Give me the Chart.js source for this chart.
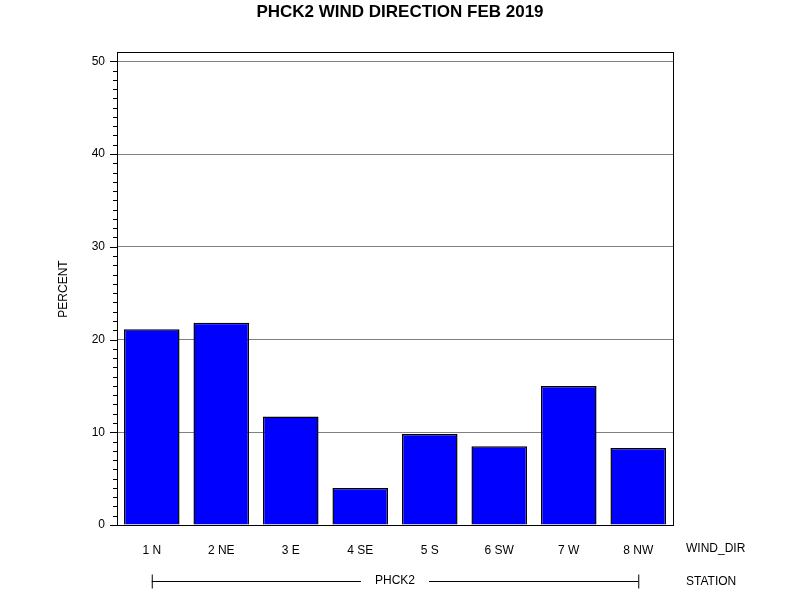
<!DOCTYPE html>
<html>
<head>
<meta charset="utf-8">
<script src="https://cdn.jsdelivr.net/npm/chart.js@4.4.1/dist/chart.umd.min.js"></script>
<style>
  html, body { margin: 0; padding: 0; background: #fff; }
  #wrap { width: 800px; height: 600px; }
</style>
</head>
<body>
<div id="wrap"><canvas id="myChart" width="800" height="600"></canvas></div>
<script>
const windDirs = ['1 N', '2 NE', '3 E', '4 SE', '5 S', '6 SW', '7 W', '8 NW'];
const percents = [21.1, 21.8, 11.7, 4.0, 9.8, 8.5, 15.0, 8.3];
const yTicks = [0, 10, 20, 30, 40, 50];
const station = 'PHCK2';
const chartTitle = 'PHCK2 WIND DIRECTION FEB 2019';

const FONT = '"Liberation Sans", Arial, sans-serif';

// frame, minor ticks, titles and the station row under the axis
const extras = {
    id: 'extras',
    afterDraw(chart) {
        const c = chart.ctx;
        const a = chart.chartArea;
        const y = chart.scales.y;
        const x = chart.scales.x;
        c.save();
        c.strokeStyle = '#000';
        c.lineWidth = 1;
        c.strokeRect(a.left + 0.5, a.top + 0.5, a.right - a.left, a.bottom - a.top);

        for (let v = 0; v <= 50; v++) {
            const py = Math.round(y.getPixelForValue(v)) + 0.5;
            const len = v % 10 === 0 ? 7 : 4;
            c.beginPath();
            c.moveTo(a.left - len, py);
            c.lineTo(a.left, py);
            c.stroke();
        }

        c.fillStyle = '#000';
        c.font = 'bold 17px ' + FONT;
        c.textAlign = 'center';
        c.textBaseline = 'middle';
        c.fillText(chartTitle, 400, 12);

        c.font = '12px ' + FONT;
        c.save();
        c.translate(64, 289);
        c.rotate(-Math.PI / 2);
        c.fillText('PERCENT', 0, 0);
        c.restore();

        c.textAlign = 'left';
        c.fillText('WIND_DIR', 686, 549);
        c.fillText('STATION', 686, 582);

        const x0 = x.getPixelForValue(0);
        const x1 = x.getPixelForValue(windDirs.length - 1);
        const mid = (x0 + x1) / 2;
        const ly = 581.5;
        c.textAlign = 'center';
        c.fillText(station, mid, 581);
        const half = c.measureText(station).width / 2 + 14;
        c.beginPath();
        c.moveTo(x0, ly); c.lineTo(mid - half, ly);
        c.moveTo(mid + half, ly); c.lineTo(x1, ly);
        c.moveTo(x0 + 0.5, ly - 7); c.lineTo(x0 + 0.5, ly + 7);
        c.moveTo(x1 + 0.5, ly - 7); c.lineTo(x1 + 0.5, ly + 7);
        c.stroke();
        c.restore();
    }
};

new Chart(document.getElementById('myChart'), {
    type: 'bar',
    data: {
        labels: windDirs,
        datasets: [{
            data: percents,
            backgroundColor: '#0000ff',
            borderColor: '#000',
            borderWidth: 1.5,
            barPercentage: 0.8,
            categoryPercentage: 1.0
        }]
    },
    options: {
        responsive: false,
        animation: false,
        layout: { padding: { top: 52, right: 127, left: 0, bottom: 0 } },
        plugins: {
            legend: { display: false },
            tooltip: { enabled: false }
        },
        scales: {
            x: {
                grid: { display: false },
                border: { display: false },
                afterFit(s) { s.height = 75; },
                ticks: { color: '#000', font: { family: FONT, size: 12 }, padding: 10, maxRotation: 0 }
            },
            y: {
                min: 0,
                max: 51,
                afterFit(s) { s.width = 117; },
                afterBuildTicks(s) { s.ticks = yTicks.map(v => ({ value: v })); },
                border: { display: false },
                grid: {
                    drawTicks: false,
                    color: ctx => (ctx.tick && ctx.tick.value > 0) ? '#808080' : 'rgba(0,0,0,0)'
                },
                ticks: {
                    color: '#000',
                    padding: 12,
                    font: { family: FONT, size: 12 }
                }
            }
        }
    },
    plugins: [extras]
});
</script>
</body>
</html>
